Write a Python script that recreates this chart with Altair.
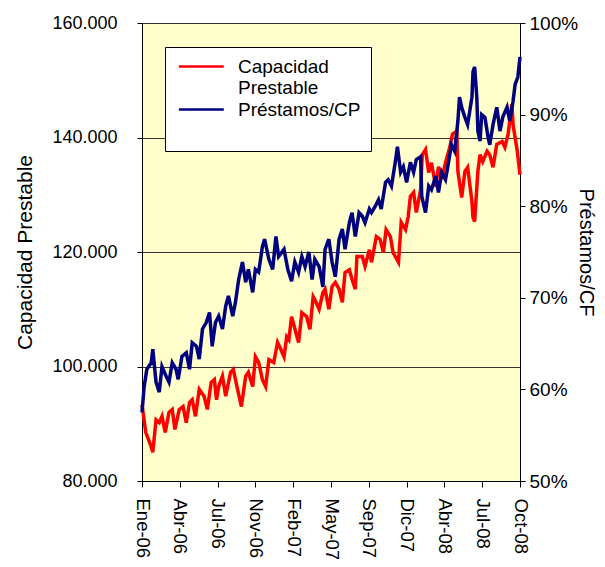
import json
import altair as alt
import pandas as pd

# ---- Data ----
etiquetas_x = ["Ene-06", "Abr-06", "Jul-06", "Nov-06", "Feb-07", "May-07",
               "Sep-07", "Dic-07", "Abr-08", "Jul-08", "Oct-08"]

# business-day index (0 = Ene-06, 70 per labelled tick)
cp_dia = [0, 7, 17, 20, 26, 32, 37, 43, 50, 56, 61, 69, 76, 82, 88, 93, 99, 106,
          115, 121, 128, 134, 138, 142, 149, 155, 164, 169, 177, 184, 192, 197,
          205, 210, 216, 223, 229, 235, 244, 251, 257, 263, 268, 272, 277, 290,
          296, 305, 311, 317, 320, 328, 335, 339, 346, 352, 358, 365, 371, 376,
          384, 389, 395, 398, 408, 413, 421, 425, 434, 441, 447, 452, 460, 465,
          475, 480, 488, 493, 497, 503, 508, 516, 519, 525, 531, 536, 544, 549,
          555, 562, 570, 575, 583, 585, 592, 598, 603, 607, 611, 613, 616, 622,
          626, 631, 639, 644, 650, 657, 667, 672, 678, 685, 687, 695, 700]
cp_valor = [93300, 88500, 86000, 85000, 90700, 90200, 91300, 88500, 92000, 92500,
            89000, 92500, 93000, 90200, 93700, 94200, 91300, 96000, 94800, 92500,
            97200, 97700, 94200, 96500, 98300, 94800, 99000, 99500, 96000, 93000,
            98300, 99000, 96500, 101700, 100700, 97700, 96500, 101200, 100700,
            104200, 103000, 101700, 105200, 104700, 108700, 104200, 109400, 108700,
            106500, 112200, 111700, 110000, 112900, 113500, 110000, 114000, 114700,
            113500, 111200, 116400, 116900, 115200, 113500, 119200, 119200, 117500,
            120400, 118200, 122700, 122200, 119900, 123900, 122700, 119900, 118200,
            125200, 123900, 126200, 129700, 130400, 126900, 130900, 137000, 137900,
            133900, 135600, 131400, 134900, 132700, 135600, 138300, 140600, 141100,
            134100, 129500, 134100, 134800, 131800, 128800, 126000, 125300, 134100,
            137000, 135800, 137600, 137000, 134800, 138800, 139300, 138300, 140600,
            145800, 142300, 137600, 133500]

pr_dia = [0, 4, 9, 17, 20, 26, 32, 37, 45, 50, 56, 63, 67, 74, 82, 88, 93, 101,
          106, 112, 119, 125, 130, 136, 142, 149, 155, 160, 168, 173, 179, 186,
          192, 197, 205, 210, 216, 223, 227, 235, 242, 248, 253, 263, 270, 277,
          283, 290, 296, 302, 309, 315, 320, 328, 335, 339, 346, 352, 358, 365,
          371, 376, 384, 389, 395, 402, 408, 413, 421, 425, 432, 438, 443, 451,
          456, 462, 469, 473, 479, 484, 490, 497, 503, 508, 516, 518, 525, 531,
          536, 544, 549, 555, 562, 566, 573, 579, 585, 588, 592, 598, 603, 611,
          613, 616, 620, 622, 626, 629, 635, 641, 644, 650, 657, 663, 668, 676,
          681, 687, 691, 696, 700]
pr_valor = [0.575, 0.603, 0.622, 0.629, 0.644, 0.608, 0.597, 0.625, 0.614, 0.608,
            0.629, 0.622, 0.611, 0.636, 0.640, 0.622, 0.651, 0.647, 0.633, 0.666,
            0.673, 0.684, 0.647, 0.673, 0.680, 0.666, 0.691, 0.702, 0.680, 0.695,
            0.720, 0.739, 0.717, 0.731, 0.706, 0.731, 0.728, 0.756, 0.764, 0.742,
            0.731, 0.767, 0.745, 0.753, 0.731, 0.718, 0.739, 0.728, 0.745, 0.734,
            0.750, 0.720, 0.742, 0.734, 0.712, 0.753, 0.764, 0.739, 0.723, 0.764,
            0.775, 0.753, 0.782, 0.793, 0.767, 0.793, 0.789, 0.782, 0.797, 0.793,
            0.800, 0.807, 0.797, 0.826, 0.829, 0.822, 0.848, 0.865, 0.837, 0.843,
            0.826, 0.848, 0.837, 0.851, 0.854, 0.811, 0.793, 0.822, 0.818, 0.833,
            0.815, 0.837, 0.829, 0.842, 0.867, 0.860, 0.893, 0.919, 0.908, 0.897,
            0.889, 0.919, 0.947, 0.952, 0.919, 0.882, 0.871, 0.900, 0.897, 0.875,
            0.867, 0.889, 0.908, 0.882, 0.897, 0.908, 0.893, 0.914, 0.933, 0.941,
            0.963]

serie_cp = "Capacidad Prestable"
serie_pr = "Préstamos/CP"

df_cp = pd.DataFrame({"dia": cp_dia, "valor": cp_valor, "serie": serie_cp})
df_pr = pd.DataFrame({"dia": pr_dia, "valor": pr_valor, "serie": serie_pr})

FONT = "Liberation Sans"
x_label_expr = json.dumps(etiquetas_x) + "[round(datum.value / 70)]"

x_enc = alt.X(
    "dia:Q",
    scale=alt.Scale(domain=[0, 700], nice=False, zero=False),
    axis=alt.Axis(values=list(range(0, 701, 70)), labelExpr=x_label_expr,
                  labelAngle=90, title=None, grid=False, tickSize=6,
                  labelPadding=11, domainColor="black", tickColor="black",
                  labelFont=FONT, labelFontSize=18.5, labelColor="black"),
)

color_enc = alt.Color(
    "serie:N",
    scale=alt.Scale(domain=[serie_cp, serie_pr], range=["#FF0000", "#000080"]),
    legend=alt.Legend(
        title=None, orient="none", legendX=23, legendY=24,
        fillColor="white", strokeColor="black", padding=10,
        symbolType="M-1,0L7,0", symbolSize=126, symbolStrokeWidth=2.5,
        labelFont=FONT, labelFontSize=19, labelColor="black", labelOffset=44,
        labelLimit=0, rowPadding=2,
        labelExpr="datum.label == 'Capacidad Prestable' ? ['Capacidad', 'Prestable'] : [datum.label, ' ']",
    ),
)

left = alt.Chart(df_cp).mark_line(strokeWidth=3.5).encode(
    x=x_enc,
    y=alt.Y("valor:Q",
            scale=alt.Scale(domain=[80000, 160000], nice=False, zero=False),
            axis=alt.Axis(values=[80000, 100000, 120000, 140000, 160000],
                          format=",.0f", title="Capacidad Prestable",
                          grid=True, gridColor="#333333", gridWidth=1,
                          tickSize=5, labelPadding=20, domainColor="black",
                          tickColor="black", labelFont=FONT, labelFontSize=18,
                          labelColor="black", titleFont=FONT, titleFontSize=21,
                          titleFontWeight="normal", titleColor="black",
                          titleX=-117, titleY=229, titleAngle=270,
                          titleBaseline="middle", titleAlign="center")),
    color=color_enc,
)

right = alt.Chart(df_pr).mark_line(strokeWidth=3.5).encode(
    x=x_enc,
    y=alt.Y("valor:Q",
            scale=alt.Scale(domain=[0.5, 1.0], nice=False, zero=False),
            axis=alt.Axis(orient="right", values=[0.5, 0.6, 0.7, 0.8, 0.9, 1.0],
                          format=".0%", title="Préstamos/CF", grid=False,
                          tickSize=5, labelPadding=4, domainColor="black",
                          tickColor="black", labelFont=FONT, labelFontSize=19,
                          labelColor="black", titleFont=FONT, titleFontSize=20,
                          titleFontWeight="normal", titleColor="black",
                          titleX=65, titleY=229, titleAngle=90,
                          titleBaseline="middle", titleAlign="center")),
    color=color_enc,
)

chart = (
    alt.layer(left, right)
    .resolve_scale(y="independent")
    .properties(width=378, height=458,
                padding={"left": 134, "top": 15, "right": 77, "bottom": 78},
                autosize=alt.AutoSizeParams(type="none"),
                background="white")
    .configure_view(fill="#FFFFCC", stroke="black", strokeWidth=1)
)

chart.save("out.html", embed_options={
    "renderer": "svg", "actions": False,
    "formatLocale": {"decimal": ",", "thousands": ".", "grouping": [3],
                     "currency": ["", "€"]},
})
